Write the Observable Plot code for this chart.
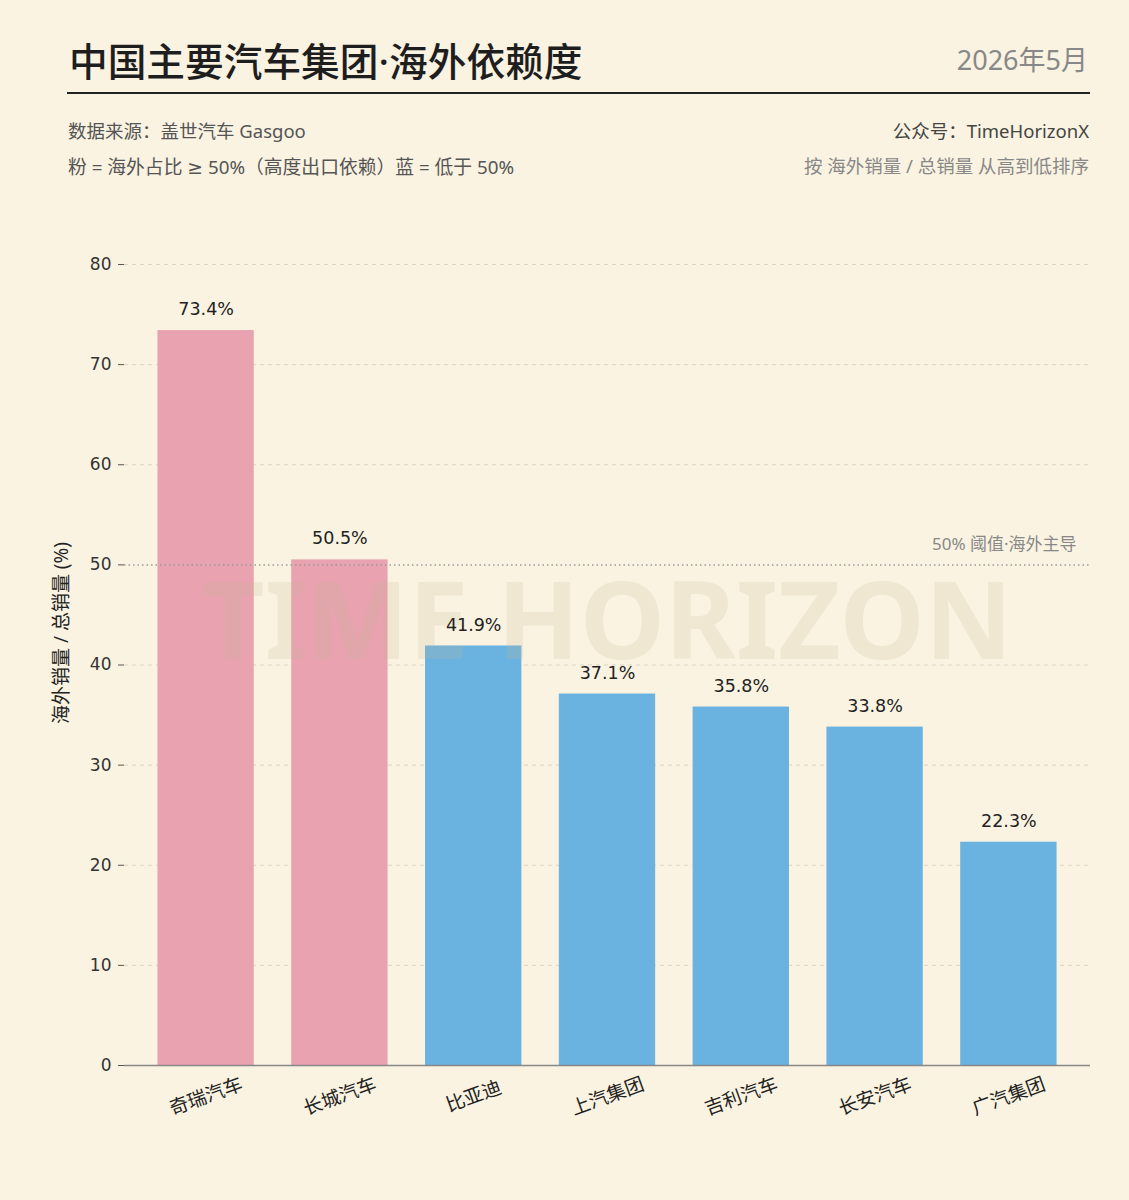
<!DOCTYPE html>
<html>
<head>
<meta charset="utf-8">
<script src="https://cdn.jsdelivr.net/npm/d3@7"></script>
<script src="https://cdn.jsdelivr.net/npm/@observablehq/plot@0.6"></script>
<style>
  html, body { margin: 0; padding: 0; background: #FAF3E1; }
  body { width: 1129px; height: 1200px; position: relative; font-family: "Noto Sans", "Noto Sans CJK SC", sans-serif; }
  .abs { position: absolute; white-space: nowrap; }
  #title { left: 69px; top: 40px; font-size: 38.7px; line-height: 42px; font-weight: 500; color: #1e1e1e; }
  #date { right: 41px; top: 45px; font-size: 27px; line-height: 30px; color: #888; }
  #rule { left: 67px; top: 92px; width: 1023px; height: 2px; background: #222; }
  #src { left: 68px; top: 119px; font-size: 18.5px; line-height: 24px; color: #555; }
  #legend { left: 68px; top: 155px; font-size: 18.8px; line-height: 24px; color: #555; font-family: "Noto Sans", "DejaVu Sans", "Noto Sans CJK SC", sans-serif; }
  #acct { right: 40px; top: 119px; font-size: 18.5px; line-height: 24px; color: #444; }
  #sort { right: 40px; top: 154px; font-size: 18.5px; line-height: 24px; color: #888; }
  #chart { position: absolute; left: 0; top: 190px; }
</style>
</head>
<body>
<div id="title" class="abs"></div>
<div id="date" class="abs"></div>
<div id="rule" class="abs"></div>
<div id="src" class="abs"></div>
<div id="legend" class="abs"></div>
<div id="acct" class="abs"></div>
<div id="sort" class="abs"></div>
<div id="chart"></div>
<script>
// ---- data ----
const companies = ["奇瑞汽车", "长城汽车", "比亚迪", "上汽集团", "吉利汽车", "长安汽车", "广汽集团"];
const overseasShare = [73.4, 50.5, 41.9, 37.1, 35.8, 33.8, 22.3];
const yTicks = [0, 10, 20, 30, 40, 50, 60, 70, 80];
const threshold = 50;
const thresholdLabel = "50% 阈值·海外主导";
const yLabel = "海外销量 / 总销量 (%)";
const watermark = "TIME HORIZON";
const groupNames = ["high", "low"];
const groupColors = ["#E8A2B0", "#6AB2E0"];

const titleText = "中国主要汽车集团·海外依赖度";
const dateText = "2026年5月";
const sourceText = "数据来源：盖世汽车 Gasgoo";
const legendText = "粉 = 海外占比 ≥ 50%（高度出口依赖）蓝 = 低于 50%";
const accountText = "公众号：TimeHorizonX";
const sortText = "按 海外销量 / 总销量 从高到低排序";

document.getElementById("title").textContent = titleText;
document.getElementById("date").textContent = dateText;
document.getElementById("src").textContent = sourceText;
document.getElementById("legend").textContent = legendText;
document.getElementById("acct").textContent = accountText;
document.getElementById("sort").textContent = sortText;

const data = companies.map((name, i) => ({
  name,
  value: overseasShare[i],
  group: overseasShare[i] >= threshold ? "high" : "low"
}));

const cjk = "'Noto Sans', 'Noto Sans CJK SC', sans-serif";

const chart = Plot.plot({
  width: 1129,
  height: 960,
  marginTop: 74,
  marginBottom: 85,
  marginLeft: 124,
  marginRight: 39,
  style: {
    background: "transparent",
    fontFamily: "'DejaVu Sans', 'Noto Sans CJK SC', sans-serif",
    fontSize: "17px",
    color: "#333"
  },
  x: { domain: companies, paddingInner: 0.28, paddingOuter: 0.25, round: false, label: null },
  y: { domain: [0, 80], label: null },
  color: { domain: groupNames, range: groupColors },
  marks: [
    Plot.gridY(yTicks.filter(d => d !== 0 && d !== threshold), { stroke: "#DDD5C0", strokeOpacity: 1, strokeDasharray: "4,4" }),
    Plot.barY(data, { x: "name", y: "value", fill: "group" }),
    Plot.text([watermark], {
      frameAnchor: "middle", dy: -41, fontSize: 108, fontWeight: "bold",
      fontFamily: "'Noto Sans', sans-serif", fill: "#C8B996", fillOpacity: 0.2, letterSpacing: 5
    }),
    Plot.ruleY([threshold], { stroke: "#9a9a9a", strokeWidth: 1.5, strokeDasharray: "1.5,3" }),
    Plot.text([threshold], {
      y: d => d, text: () => thresholdLabel, frameAnchor: "right", textAnchor: "end",
      dx: -14, dy: -20, fill: "#888", fontSize: 17, fontFamily: cjk
    }),
    Plot.text(data, {
      x: "name", y: "value", text: d => d.value.toFixed(1) + "%",
      dy: -21, fill: "#222", fontSize: 17.5
    }),
    Plot.ruleY([0], { stroke: "#888", strokeWidth: 1.5 }),
    Plot.axisY({ ticks: yTicks, tickSize: 6, tickPadding: 7, stroke: "#555", fill: "#333", fontSize: 17 }),
    Plot.axisX({
      tickSize: 0, tickRotate: -20, tickPadding: 31, lineAnchor: "middle", textAnchor: "middle",
      fill: "#222", fontSize: 19, fontFamily: cjk
    }),
    Plot.text([yLabel], {
      frameAnchor: "left", textAnchor: "middle", rotate: -90, dx: -63, dy: -32,
      fill: "#222", fontSize: 19, fontFamily: cjk
    })
  ]
});
document.getElementById("chart").appendChild(chart);
</script>
</body>
</html>
